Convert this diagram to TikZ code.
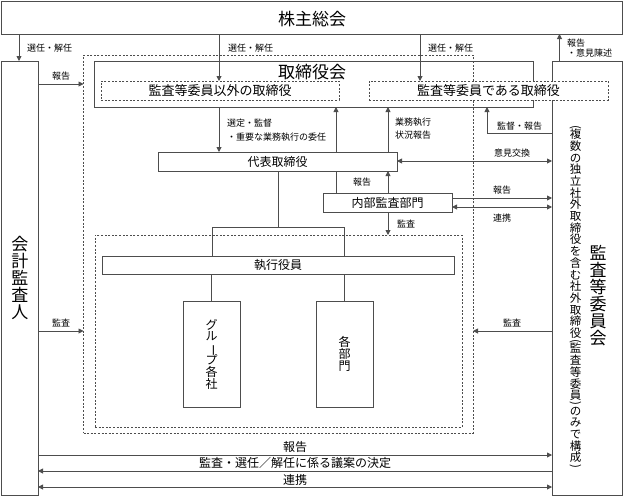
\documentclass[tikz,border=0pt]{standalone}
\usepackage{fontspec}
\usepackage{graphicx}
\setmainfont{Noto Sans CJK JP}
\usetikzlibrary{arrows.meta}
\definecolor{lc}{HTML}{4D4D4D}
\newcommand\vrot[1]{\rotatebox[origin=c]{-90}{#1}}
\newcommand\tightls{\lineskiplimit-20pt\relax}
\begin{document}
\begin{tikzpicture}[x=1pt,y=-1pt,
 bxs/.style={draw=lc, line width=0.9pt, inner sep=0pt, outer sep=0pt, anchor=north west},
 dbxs/.style={bxs, line width=0.8pt, dash pattern=on 2pt off 1.6pt},
 lnk/.style={draw=lc, line width=0.9pt},
 lnkarr/.style={lnk, -{Triangle[length=5pt,width=5pt]}},
 lnkdarr/.style={lnk, {Triangle[length=5pt,width=5pt]}-{Triangle[length=5pt,width=5pt]}},
 smalltxt/.style={font=\fontsize{9}{11}\selectfont, inner sep=0pt},
 midtxt/.style={font=\fontsize{12}{14}\selectfont, inner sep=0pt},
 bigtxt/.style={font=\fontsize{17}{19}\selectfont, inner sep=0pt},
 vtxt/.style={align=center, inner sep=0pt}
]
\useasboundingbox (0,0) rectangle (624,496);
% coordinates used by connectors
\coordinate (xA) at (19,0);
\coordinate (xB) at (219,0);
\coordinate (xC) at (420,0);
\coordinate (xD) at (559.5,0);
\coordinate (xE) at (336,0);
\coordinate (xF) at (388,0);
\coordinate (xG) at (487,0);
\coordinate (xH) at (278,0);
\coordinate (xI) at (212,0);
\coordinate (xJ) at (344,0);
\coordinate (yA) at (0,84);
\coordinate (yB) at (0,133);
\coordinate (yC) at (0,161);
\coordinate (yD) at (0,198);
\coordinate (yE) at (0,207);
\coordinate (yF) at (0,227);
\coordinate (yG) at (0,331);
\coordinate (yH) at (0,455);
\coordinate (yI) at (0,471);
\coordinate (yJ) at (0,487);

% outer / inner dashed frames
\node[dbxs, minimum width=389.5pt, minimum height=378pt] (outer) at (83.5,55) {};
\node[dbxs, minimum width=367pt, minimum height=192pt] (inner) at (95,235) {};

% boxes
\node[bxs, minimum width=621pt, minimum height=32.5pt] (kabu) at (1.5,1.5) {};
\node[bigtxt] (kabut) at (312,19) {株主総会};
\node[bxs, minimum width=36.5pt, minimum height=434pt] (kaikei) at (1.5,61) {};
\node[vtxt, font=\fontsize{17}{17}\selectfont\tightls] (kaikeit) at (20,278) {会\\計\\監\\査\\人};
\node[bxs, minimum width=70.5pt, minimum height=434pt] (iinkai) at (552,61) {};
\node[vtxt, font=\fontsize{11.5}{11.7}\selectfont\tightls] (iinkait1) at (575.5,297.5)
 {\vrot{(}\\[-4pt]複\\数\\の\\独\\立\\社\\外\\取\\締\\役\\を\\含\\む\\社\\外\\取\\締\\役\\[-4pt]\vrot{(}\\[-4pt]監\\査\\等\\委\\員\\[-4pt]\vrot{)}\\[-4pt]の\\み\\で\\構\\成\\[-4pt]\vrot{)}};
\node[vtxt, font=\fontsize{17}{17}\selectfont\tightls] (iinkait2) at (598,296) {監\\査\\等\\委\\員\\会};

\node[bxs, minimum width=439pt, minimum height=46pt] (tkai) at (94,61) {};
\node[bigtxt] (tkait) at (312,72) {取締役会};
\node[dbxs, minimum width=238pt, minimum height=19pt, font=\fontsize{13}{15}\selectfont] (igai) at (101,81) {監査等委員以外の取締役};
\node[dbxs, fill=white, minimum width=239pt, minimum height=19pt, font=\fontsize{13}{15}\selectfont] (dearu) at (369,81) {監査等委員である取締役};
\node[bxs, midtxt, minimum width=239pt, minimum height=19pt] (daihyo) at (158,152) {代表取締役};
\node[bxs, midtxt, minimum width=129pt, minimum height=19pt] (naibu) at (323,193) {内部監査部門};
\node[bxs, midtxt, minimum width=352pt, minimum height=18pt] (shikko) at (102,256) {執行役員};
\node[bxs, minimum width=57pt, minimum height=106pt] (group) at (183,301) {};
\node[vtxt, font=\fontsize{12}{11.8}\selectfont\tightls] (groupt) at (group.center) {グ\\ル\\\vrot{ー}\\プ\\各\\社};
\node[bxs, minimum width=57pt, minimum height=106pt] (kakubu) at (316,301) {};
\node[vtxt, font=\fontsize{12}{11.8}\selectfont\tightls] (kakubut) at (kakubu.center) {各\\部\\門};

% connectors from 株主総会
\draw[lnkarr] (kabu.south -| xA) -- (kaikei.north -| xA);
\draw[lnkarr] (kabu.south -| xB) -- (igai.north -| xB);
\draw[lnkarr] (kabu.south -| xC) -- (dearu.north -| xC);
\draw[lnkarr] (iinkai.north -| xD) -- (kabu.south -| xD);
\node[smalltxt, anchor=west] (l1) at (27,48) {選任・解任};
\node[smalltxt, anchor=west] (l2) at (228,48) {選任・解任};
\node[smalltxt, anchor=west] (l3) at (428,48) {選任・解任};
\node[smalltxt, anchor=west, align=left, font=\fontsize{9}{10}\selectfont] (l4) at (567,48) {報告\\・意見陳述};

% 会計監査人 -> frame
\draw[lnkarr] (kaikei.east |- yA) -- (outer.west |- yA);
\node[smalltxt] (l5) at (61,76) {報告};

% 取締役会 <-> 代表取締役
\draw[lnkarr] (tkai.south -| xB) -- (daihyo.north -| xB);
\node[smalltxt, anchor=west, align=left, font=\fontsize{9}{14}\selectfont] (l6) at (227,130) {選定・監督\\・重要な業務執行の委任};
\draw[lnkarr] (daihyo.north -| xE) -- (tkai.south -| xE);
\draw[lnkarr] (daihyo.north -| xF) -- (tkai.south -| xF);
\node[smalltxt, anchor=west, align=left, font=\fontsize{9}{13}\selectfont] (l7) at (395,128.5) {業務執行\\状況報告};
\draw[lnkarr] (iinkai.west |- yB) -| (tkai.south -| xG);
\node[smalltxt, anchor=west] (l8) at (497,126) {監督・報告};
\draw[lnkdarr] (daihyo.east |- yC) -- (iinkai.west |- yC);
\node[smalltxt] (l9) at (512,153) {意見交換};

% 内部監査部門
\draw[lnk] (daihyo.south -| xE) -- (naibu.north -| xE);
\draw[lnkarr] (naibu.north -| xF) -- (daihyo.south -| xF);
\node[smalltxt] (l10) at (362,182) {報告};
\draw[lnkarr] (naibu.south -| xF) -- (inner.north -| xF);
\node[smalltxt, anchor=west] (l11) at (397,224) {監査};
\draw[lnkarr] (naibu.east |- yD) -- (iinkai.west |- yD);
\node[smalltxt] (l12) at (502,190) {報告};
\draw[lnkdarr] (naibu.east |- yE) -- (iinkai.west |- yE);
\node[smalltxt] (l13) at (502,218) {連携};

% tree of execution
\draw[lnk] (daihyo.south -| xH) -- (xH |- yF);
\draw[lnk] (shikko.north -| xI) |- (xJ |- yF) -- (shikko.north -| xJ);
\draw[lnk] (shikko.south -| group.north) -- (group.north);
\draw[lnk] (shikko.south -| kakubu.north) -- (kakubu.north);

% audit arrows
\draw[lnkarr] (kaikei.east |- yG) -- (outer.west |- yG);
\node[smalltxt] (l14) at (61,323) {監査};
\draw[lnkarr] (iinkai.west |- yG) -- (outer.east |- yG);
\node[smalltxt] (l15) at (512,323) {監査};

% bottom arrows
\draw[lnkarr] (kaikei.east |- yH) -- (iinkai.west |- yH);
\node[midtxt] (l16) at (295,447) {報告};
\draw[lnkarr] (iinkai.west |- yI) -- (kaikei.east |- yI);
\node[midtxt] (l17) at (295,463) {監査・選任／解任に係る議案の決定};
\draw[lnkdarr] (kaikei.east |- yJ) -- (iinkai.west |- yJ);
\node[midtxt] (l18) at (295,480) {連携};
\end{tikzpicture}
\end{document}
